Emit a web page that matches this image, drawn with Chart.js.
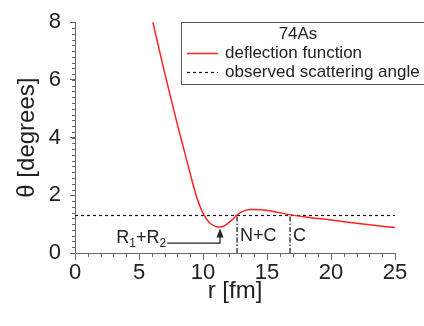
<!DOCTYPE html>
<html>
<head>
<meta charset="utf-8">
<script src="https://cdn.jsdelivr.net/npm/chart.js@4.4.1/dist/chart.umd.min.js"></script>
<style>
	html, body { margin: 0; padding: 0; background: #fff; }
</style>
</head>
<body>
<canvas id="myChart" width="424" height="326"></canvas>
<script>
// Deflection function for 74As: theta [deg] against distance r [fm]
const rValues = [5.9, 6.5, 7.0, 7.5, 8.0, 8.5, 9.0, 9.5, 10.0, 10.5, 11.0, 11.3, 11.7, 12.2, 12.7, 13.2, 13.8, 14.5, 15.5, 16.8, 18.0, 19.7, 21.5, 23.0, 25.0]
const thetaValues = [8.35, 7.2, 6.25, 5.35, 4.45, 3.6, 2.75, 1.95, 1.38, 1.05, 0.92, 0.90, 0.95, 1.12, 1.33, 1.46, 1.51, 1.50, 1.44, 1.33, 1.25, 1.16, 1.06, 0.98, 0.88]

// Observed scattering angle (deg), drawn across the whole r range
const observedAngle = 1.3
const rRange = [0, 25]
const thetaRange = [0, 8]
const rStep = 5
const thetaStep = 2
const rMinorStep = 1
const thetaMinorStep = 0.2

// Marked radii: touching distance R1+R2, nuclear+Coulomb, Coulomb only
const rTouch = 11.33
const rNuclearCoulomb = 12.66
const rCoulomb = 16.8
const arrowStartR = 7.2
const arrowTheta = [0.34, 0.85]
const regionLabels = ['N+C', 'C']

Chart.defaults.font.family = '"Liberation Sans", Arial, sans-serif'
Chart.defaults.color = '#222'

const curve = rValues.map((r, i) => ({ x: r, y: thetaValues[i] }))
const dashDot = [5, 2, 1.5, 2]

// Small ticks between the labelled ones on both axes
const minorTicks = {
	id: 'minorTicks',
	afterDraw(chart) {
		const { ctx, chartArea, scales: { x, y } } = chart
		ctx.save()
		ctx.strokeStyle = '#666'
		ctx.lineWidth = 1
		ctx.beginPath()
		for (let i = 0; i * thetaMinorStep <= thetaRange[1] + 1e-6; i++) {
			const py = Math.round(y.getPixelForValue(i * thetaMinorStep)) + 0.5
			ctx.moveTo(chartArea.left, py)
			ctx.lineTo(chartArea.left - 3, py)
		}
		for (let i = 0; i * rMinorStep <= rRange[1] + 1e-6; i++) {
			const px = Math.round(x.getPixelForValue(i * rMinorStep)) + 0.5
			ctx.moveTo(px, chartArea.bottom)
			ctx.lineTo(px, chartArea.bottom + 4)
		}
		ctx.stroke()
		ctx.restore()
	}
}

// Region labels, R1+R2 text with subscripts and the arrow head
const annotations = {
	id: 'annotations',
	afterDatasetsDraw(chart) {
		const { ctx, scales: { x, y } } = chart
		ctx.save()
		ctx.fillStyle = '#222'
		ctx.textBaseline = 'middle'
		ctx.font = '18px "Liberation Sans", Arial, sans-serif'
		const labelY = y.getPixelForValue(0.58)
		ctx.fillText(regionLabels[0], x.getPixelForValue(rNuclearCoulomb) + 3, labelY)
		ctx.fillText(regionLabels[1], x.getPixelForValue(rCoulomb) + 3, labelY)

		// R1+R2, right edge just before the arrow tail
		const big = '18px "Liberation Sans", Arial, sans-serif'
		const small = '12px "Liberation Sans", Arial, sans-serif'
		const parts = [['R', big, 0], ['1', small, 5], ['+R', big, 0], ['2', small, 5]]
		let width = 0
		parts.forEach(p => { ctx.font = p[1]; width += ctx.measureText(p[0]).width })
		let tx = x.getPixelForValue(arrowStartR) - width - 1
		const ty = y.getPixelForValue(arrowTheta[0]) - 5
		parts.forEach(p => {
			ctx.font = p[1]
			ctx.fillText(p[0], tx, ty + p[2])
			tx += ctx.measureText(p[0]).width
		})

		// arrow head
		const ax = x.getPixelForValue(rTouch)
		const ay = y.getPixelForValue(arrowTheta[1])
		ctx.beginPath()
		ctx.moveTo(ax, ay)
		ctx.lineTo(ax - 3.5, ay + 9)
		ctx.lineTo(ax + 3.5, ay + 9)
		ctx.closePath()
		ctx.fill()
		ctx.restore()
	}
}

// Boxed legend in the upper right, partly running off the canvas
const boxLegend = {
	id: 'boxLegend',
	afterDraw(chart) {
		const { ctx } = chart
		const sets = chart.data.datasets
		ctx.save()
		ctx.strokeStyle = '#555'
		ctx.lineWidth = 1
		ctx.strokeRect(181.5, 22.5, 260, 62)
		ctx.font = '17px "Liberation Sans", Arial, sans-serif'
		ctx.fillStyle = '#222'
		ctx.textBaseline = 'middle'
		ctx.textAlign = 'center'
		ctx.fillText('74As', 298, 34)
		ctx.textAlign = 'left'
		const rows = [[sets[0], 53], [sets[1], 72]]
		rows.forEach(([ds, ry]) => {
			ctx.beginPath()
			ctx.strokeStyle = ds.borderColor
			ctx.lineWidth = ds.borderWidth
			ctx.setLineDash(ds.borderDash || [])
			ctx.moveTo(187, ry + 0.5)
			ctx.lineTo(218, ry + 0.5)
			ctx.stroke()
			ctx.setLineDash([])
			ctx.fillText(ds.label, 225, ry)
		})
		ctx.restore()
	}
}

const ctx = document.getElementById('myChart')
var chart = new Chart(ctx, {
	type: 'scatter',
	data: {
		datasets: [{
			label: 'deflection function',
			data: curve,
			showLine: true,
			borderColor: 'rgb(255, 35, 35)',
			borderWidth: 1.5,
			pointRadius: 0,
			cubicInterpolationMode: 'monotone'
		}, {
			label: 'observed scattering angle',
			data: [{ x: rRange[0], y: observedAngle }, { x: rRange[1], y: observedAngle }],
			showLine: true,
			borderColor: '#111',
			borderWidth: 1.2,
			borderDash: [3, 3],
			pointRadius: 0
		}, {
			label: regionLabels[0],
			data: [{ x: rNuclearCoulomb, y: 0 }, { x: rNuclearCoulomb, y: observedAngle }],
			showLine: true,
			borderColor: '#111',
			borderWidth: 1.2,
			borderDash: dashDot,
			pointRadius: 0
		}, {
			label: regionLabels[1],
			data: [{ x: rCoulomb, y: 0 }, { x: rCoulomb, y: observedAngle }],
			showLine: true,
			borderColor: '#111',
			borderWidth: 1.2,
			borderDash: dashDot,
			pointRadius: 0
		}, {
			label: 'R1+R2',
			data: [{ x: arrowStartR, y: arrowTheta[0] }, { x: rTouch, y: arrowTheta[0] }, { x: rTouch, y: arrowTheta[1] - 0.2 }],
			showLine: true,
			borderColor: '#222',
			borderWidth: 1.3,
			pointRadius: 0
		}]
	},
	options: {
		responsive: false,
		animation: false,
		layout: { padding: { top: 16, right: 29, left: 0, bottom: 0 } },
		plugins: {
			legend: { display: false },
			tooltip: { enabled: false }
		},
		scales: {
			x: {
				type: 'linear',
				min: rRange[0],
				max: rRange[1],
				afterFit: s => { s.height = 73 },
				ticks: { stepSize: rStep, padding: 0, font: { size: 22 }, color: '#222', maxRotation: 0 },
				grid: { drawOnChartArea: false, tickLength: 7, tickColor: '#666' },
				border: { color: '#666', width: 1 },
				title: { display: true, text: 'r [fm]', font: { size: 24 }, color: '#222', padding: { top: 0, bottom: 20 } }
			},
			y: {
				min: thetaRange[0],
				max: thetaRange[1],
				afterFit: s => { s.width = 75 },
				ticks: { stepSize: thetaStep, padding: 9, font: { size: 22 }, color: '#222' },
				grid: { drawOnChartArea: false, tickLength: 5, tickColor: '#666' },
				border: { color: '#666', width: 1 },
				title: { display: true, text: 'θ [degrees]', font: { size: 24 }, color: '#222', padding: { top: 13, bottom: 0 } }
			}
		}
	},
	plugins: [minorTicks, annotations, boxLegend]
})
</script>
</body>
</html>
